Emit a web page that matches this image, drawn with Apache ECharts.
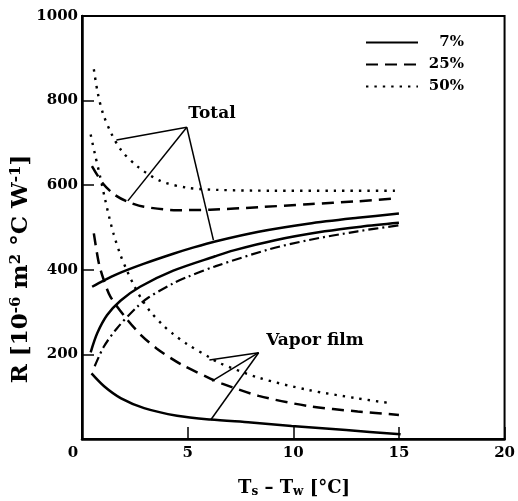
<!DOCTYPE html>
<html>
<head>
<meta charset="utf-8">
<script src="https://cdn.jsdelivr.net/npm/echarts@6/dist/echarts.min.js"></script>
<style>
html,body{margin:0;padding:0;background:#fff;}
#chart{width:518px;height:501px;}
</style>
</head>
<body>
<div id="chart"></div>
<script>
// ---- data (x = Ts - Tw [°C], y = R [1e-6 m2 °C/W]) ----
const xTicks = [0, 5, 10, 15, 20];
const yTicks = [0, 200, 400, 600, 800, 1000];
const legendNames = ['7%', '25%', '50%'];

const total7 = [[0.48,360],[1.0,374],[1.66,390],[2.91,414],[4.32,438],[5.29,453],[6.3,467],[8.36,490],[10.7,509],[13.05,523],[15.0,533]];
const total25 = [[0.47,645],[0.99,604],[1.53,578],[2.16,561],[2.94,549],[4.5,541],[6.06,542],[8.36,548],[10.7,555],[13.05,562],[14.93,569]];
const total50 = [[0.56,874],[0.75,817],[0.99,770],[1.38,723],[1.85,683],[2.63,644],[3.72,610],[4.98,594],[6.38,589],[9.0,587],[12.0,587],[14.9,587]];

const vapor7 = [[0.45,155],[1.06,124],[1.85,96],[2.94,73],[4.5,55],[6.07,46],[8.0,39],[9.92,31],[12.5,21],[15.08,11]];
const vapor25 = [[0.56,486],[0.8,415],[1.03,376],[1.35,336],[2.13,283],[2.83,244],[3.53,214],[4.24,190],[4.82,173],[6.07,143],[6.63,131],[8.36,102],[10.7,78],[13.05,65],[15.0,57]];
const vapor50 = [[0.41,720],[0.6,676],[0.85,622],[1.1,565],[1.3,522],[1.5,484],[1.82,435],[2.13,398],[2.44,365],[2.83,330],[3.22,302],[3.85,268],[4.32,248],[4.98,224],[6.07,192],[6.48,180],[8.36,145],[10.7,116],[13.05,96],[14.7,84]];

const riseSolid = [[0.41,205],[0.72,250],[1.19,293],[1.82,327],[2.75,360],[4.32,398],[6.3,432],[7.18,446],[9.14,470],[11.49,491],[13.2,502],[15.0,511]];
const riseDashDot = [[0.6,172],[1.03,218],[1.66,262],[2.6,312],[3.13,334],[4.32,368],[4.98,383],[6.3,408],[8.83,448],[10.7,470],[13.05,491],[15.0,505]];

// annotation leader lines (data coordinates)
const totalApex = [4.96, 737];
const totalTargets = [[1.63, 707], [2.17, 563], [6.22, 470]];
const vaporApex = [8.36, 204];
const vaporTargets = [[6.03, 187], [6.15, 137], [6.09, 45]];

// ---- styles ----
const FONT = '"DejaVu Serif", "Liberation Serif", serif';
const solidStyle = {color: '#000', width: 2.5, type: 'solid'};
const dashStyle = {color: '#000', width: 2.5, type: [12, 7]};
const dotStyle = {color: '#000', width: 2.4, type: [2.4, 6]};
const dashDotStyle = {color: '#000', width: 2.2, type: [10, 4, 2, 4]};

function curve(name, data, ls) {
  return {
    name: name, type: 'line', data: data, symbol: 'none', showSymbol: false,
    smooth: 0.3, lineStyle: ls, itemStyle: {color: '#000'},
    silent: true, z: 3
  };
}
function leaders(name, apex, targets) {
  const out = [];
  targets.forEach(function (t, i) {
    out.push({
      name: name + i, type: 'line', data: [apex, t], symbol: 'none',
      lineStyle: {color: '#000', width: 1.5}, silent: true, z: 2
    });
  });
  return out;
}

const series = [
  curve('7%', total7, solidStyle),
  curve('25%', total25, dashStyle),
  curve('50%', total50, dotStyle),
  curve('7% ', vapor7, solidStyle),
  curve('25% ', vapor25, dashStyle),
  curve('50% ', vapor50, dotStyle),
  curve('rise-solid', riseSolid, solidStyle),
  curve('rise-dashdot', riseDashDot, dashDotStyle)
].concat(leaders('total-lead', totalApex, totalTargets))
 .concat(leaders('vapor-lead', vaporApex, vaporTargets));

const chart = echarts.init(document.getElementById('chart'), null, {renderer: 'canvas'});
chart.setOption({
  animation: false,
  backgroundColor: '#fff',
  grid: {left: 82, right: 10, top: 16, bottom: 62, show: true, borderColor: '#000', borderWidth: 2, backgroundColor: 'transparent'},
  legend: {
    data: legendNames, orient: 'vertical', left: 365, top: 35, padding: 0,
    itemWidth: 52, itemHeight: 14, itemGap: 7, selectedMode: false,
    itemStyle: {opacity: 0, color: 'rgba(0,0,0,0)', borderWidth: 0},
    textStyle: {
      color: '#000', fontFamily: FONT, fontWeight: 'bold', fontSize: 15, lineHeight: 14,
      rich: {r: {width: 41, align: 'right', lineHeight: 14, color: '#000', fontFamily: FONT, fontWeight: 'bold', fontSize: 15}}
    },
    formatter: function (n) { return '{r|' + n + '}'; }
  },
  xAxis: {
    type: 'value', min: xTicks[0], max: xTicks[xTicks.length - 1], interval: 5,
    axisLine: {show: true, lineStyle: {color: '#000', width: 2.5}},
    axisTick: {show: true, inside: true, length: 12, lineStyle: {color: '#000', width: 1.5}},
    splitLine: {show: false},
    axisLabel: {
      color: '#000', fontFamily: FONT, fontWeight: 'bold', fontSize: 15, margin: 7,
      formatter: function (v) { return v === 0 ? '{z|0}' : String(v); },
      rich: {z: {padding: [0, 18, 0, 0], color: '#000', fontFamily: FONT, fontWeight: 'bold', fontSize: 15}}
    }
  },
  yAxis: {
    type: 'value', min: yTicks[0], max: yTicks[yTicks.length - 1], interval: 200,
    axisLine: {show: true, lineStyle: {color: '#000', width: 2.5}},
    axisTick: {show: true, inside: true, length: 12, lineStyle: {color: '#000', width: 1.5}},
    splitLine: {show: false},
    axisLabel: {showMinLabel: false, color: '#000', fontFamily: FONT, fontWeight: 'bold', fontSize: 15, margin: 4,
      formatter: function (v) { return String(v); }}
  },
  graphic: [
    {type: 'text', x: 212, y: 114, z: 10, style: {text: 'Total', fill: '#000', font: 'bold 17px ' + FONT, align: 'center', verticalAlign: 'middle'}},
    {type: 'text', x: 315, y: 341, z: 10, style: {text: 'Vapor film', fill: '#000', font: 'bold 17px ' + FONT, align: 'center', verticalAlign: 'middle'}},
    {type: 'text', x: 21, y: 269, rotation: Math.PI / 2, z: 10, style: {
      text: 'R [10{sup|-6} m{sup|2} °C W{sup|-1}]', fill: '#000', font: 'bold 23px ' + FONT,
      align: 'center', verticalAlign: 'middle',
      rich: {sup: {fontSize: 15, fontWeight: 'bold', fontFamily: FONT, fill: '#000', verticalAlign: 'top', padding: [0, 0, 10, 0]}}
    }},
    {type: 'text', x: 294, y: 488, z: 10, style: {
      text: 'T{sub|s} – T{sub|w} [°C]', fill: '#000', font: 'bold 18px ' + FONT,
      align: 'center', verticalAlign: 'middle',
      rich: {sub: {fontSize: 12, fontWeight: 'bold', fontFamily: FONT, fill: '#000', padding: [8, 0, 0, 0]}}
    }}
  ],
  series: series
});
</script>
</body>
</html>
